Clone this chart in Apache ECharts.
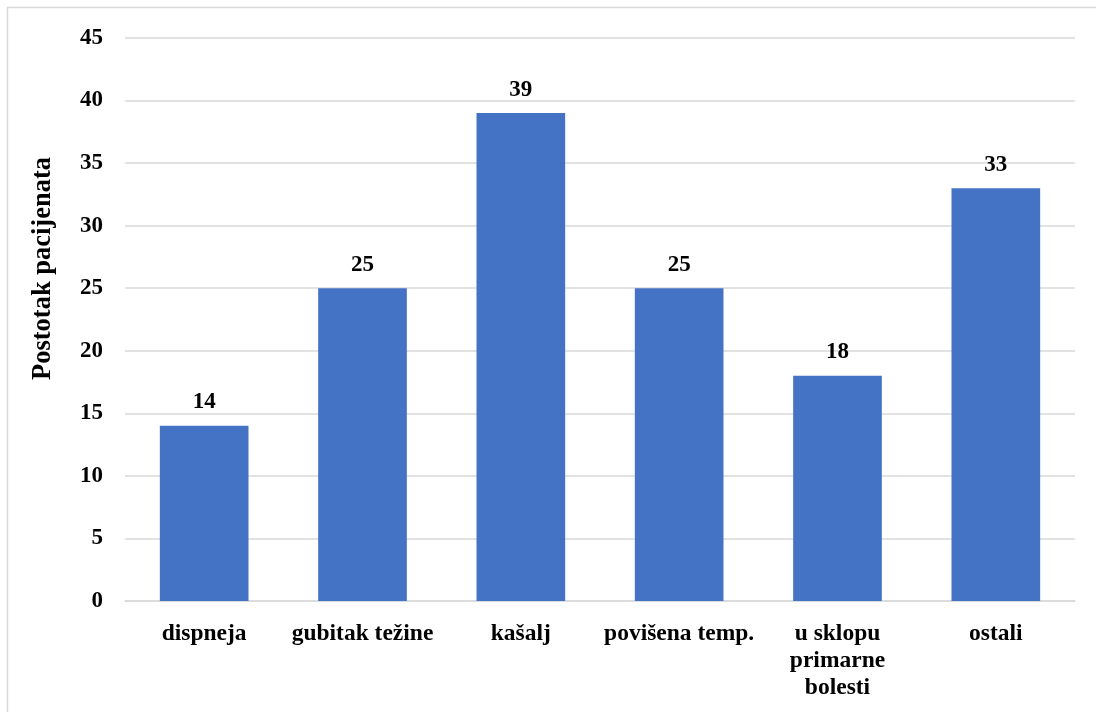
<!DOCTYPE html>
<html>
<head>
<meta charset="utf-8">
<script src="https://cdn.jsdelivr.net/npm/echarts@6/dist/echarts.min.js"></script>
<style>
html,body{margin:0;padding:0;background:#fff;}
#c{width:1096px;height:712px;}
</style>
</head>
<body>
<div id="c"></div>
<script>
var categories = ['dispneja', 'gubitak težine', 'kašalj', 'povišena temp.', 'u sklopu\nprimarne\nbolesti', 'ostali'];
var values = [14, 25, 39, 25, 18, 33];
var yTitle = 'Postotak pacijenata';

var font = '"Liberation Serif", "Times New Roman", serif';
var chart = echarts.init(document.getElementById('c'));
chart.setOption({
  animation: false,
  backgroundColor: '#fff',
  graphic: [{
    type: 'rect',
    shape: {x: 7.5, y: 7.5, width: 1200, height: 900},
    style: {fill: 'none', stroke: '#d9d9d9', lineWidth: 1.5},
    silent: true
  }],
  grid: {left: 125, right: 21, top: 38, bottom: 111},
  xAxis: {
    type: 'category',
    data: categories,
    axisLine: {lineStyle: {color: '#d9d9d9', width: 1.5}},
    axisTick: {show: false},
    axisLabel: {
      color: '#000', fontFamily: font, fontWeight: 'bold', fontSize: 23.5,
      margin: 19, lineHeight: 27, interval: 0, verticalAlign: 'top'
    }
  },
  yAxis: {
    type: 'value',
    min: 0, max: 45, interval: 5,
    name: yTitle,
    nameLocation: 'middle',
    nameGap: 68,
    nameTextStyle: {color: '#000', fontFamily: font, fontWeight: 'bold', fontSize: 26.5, padding: [0, 0, 0, 102]},
    axisLine: {show: false},
    axisTick: {show: false},
    splitLine: {lineStyle: {color: '#d9d9d9', width: 1.5}},
    axisLabel: {color: '#000', fontFamily: font, fontWeight: 'bold', fontSize: 23, margin: 22}
  },
  series: [{
    type: 'bar',
    data: values,
    barWidth: '56%',
    itemStyle: {color: '#4472c4'},
    label: {
      show: true, position: 'top', distance: 12,
      color: '#000', fontFamily: font, fontWeight: 'bold', fontSize: 23
    }
  }]
});
</script>
</body>
</html>
